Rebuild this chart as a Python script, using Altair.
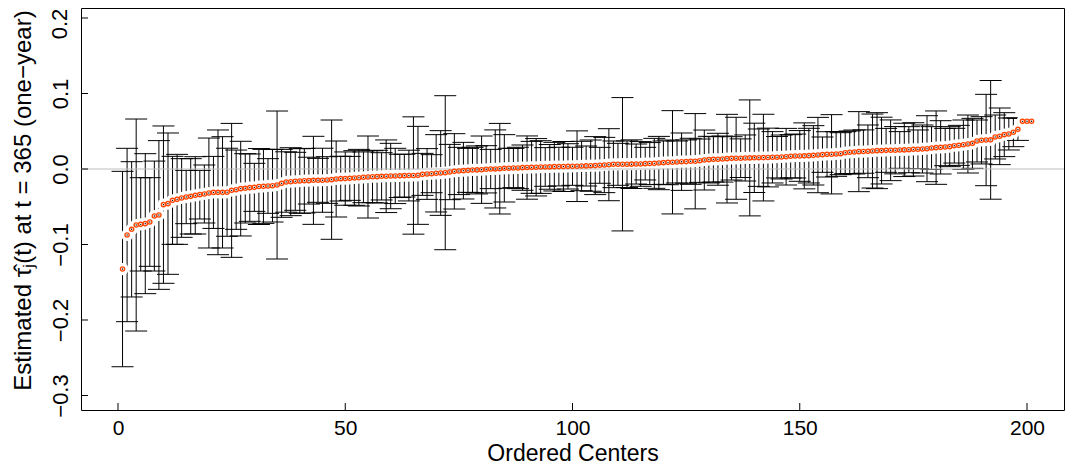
import altair as alt
import pandas as pd

est = [
    -0.1325, -0.0874, -0.0799, -0.0742, -0.0733, -0.0724, -0.0702, -0.0623, -0.0609, -0.0472,
    -0.0459, -0.0415, -0.0402, -0.0384, -0.0371, -0.0362, -0.0349, -0.0340, -0.0331, -0.0318,
    -0.0310, -0.0309, -0.0309, -0.0308, -0.0283, -0.0274, -0.0260, -0.0256, -0.0247, -0.0243,
    -0.0232, -0.0230, -0.0225, -0.0221, -0.0212, -0.0190, -0.0172, -0.0168, -0.0163, -0.0159,
    -0.0155, -0.0154, -0.0150, -0.0150, -0.0149, -0.0146, -0.0141, -0.0132, -0.0128, -0.0127,
    -0.0124, -0.0119, -0.0115, -0.0110, -0.0106, -0.0102, -0.0101, -0.0097, -0.0096, -0.0093,
    -0.0092, -0.0091, -0.0088, -0.0087, -0.0086, -0.0084, -0.0071, -0.0066, -0.0062, -0.0057,
    -0.0053, -0.0049, -0.0040, -0.0031, -0.0026, -0.0022, -0.0018, -0.0013, -0.0012, -0.0009,
    -0.0004, 0.0000, 0.0001, 0.0004, 0.0009, 0.0010, 0.0013, 0.0014, 0.0018, 0.0019,
    0.0022, 0.0023, 0.0026, 0.0027, 0.0028, 0.0031, 0.0032, 0.0033, 0.0035, 0.0036,
    0.0037, 0.0040, 0.0041, 0.0044, 0.0045, 0.0049, 0.0053, 0.0057, 0.0062, 0.0062,
    0.0063, 0.0063, 0.0064, 0.0066, 0.0067, 0.0071, 0.0072, 0.0075, 0.0079, 0.0084,
    0.0088, 0.0089, 0.0093, 0.0097, 0.0098, 0.0102, 0.0103, 0.0110, 0.0119, 0.0124,
    0.0128, 0.0129, 0.0132, 0.0137, 0.0141, 0.0142, 0.0143, 0.0146, 0.0147, 0.0148,
    0.0150, 0.0151, 0.0152, 0.0155, 0.0156, 0.0159, 0.0163, 0.0168, 0.0172, 0.0173,
    0.0174, 0.0177, 0.0181, 0.0185, 0.0190, 0.0194, 0.0195, 0.0199, 0.0203, 0.0216,
    0.0221, 0.0225, 0.0230, 0.0231, 0.0234, 0.0238, 0.0243, 0.0244, 0.0247, 0.0248,
    0.0249, 0.0252, 0.0253, 0.0256, 0.0260, 0.0261, 0.0265, 0.0269, 0.0278, 0.0283,
    0.0287, 0.0291, 0.0296, 0.0309, 0.0313, 0.0322, 0.0331, 0.0340, 0.0371, 0.0380,
    0.0384, 0.0386, 0.0424, 0.0433, 0.0455, 0.0464, 0.0486, 0.0525, 0.0631, 0.0632,
    0.0633,
]

half_width = [
    0.1294, 0.1148, 0.0896, 0.1404, 0.0618, 0.0927, 0.0587, 0.0728, 0.0985, 0.1042,
    0.0936, 0.0583, 0.0596, 0.0521, 0.0353, 0.0499, 0.0512, 0.0322, 0.0384, 0.0728,
    0.0477, 0.0826, 0.0737, 0.0583, 0.0887, 0.0525, 0.0627, 0.0459, 0.0446, 0.0318,
    0.0503, 0.0490, 0.0362, 0.0481, 0.0980, 0.0450, 0.0400, 0.0450, 0.0384, 0.0428,
    0.0428, 0.0310, 0.0583, 0.0291, 0.0424, 0.0309, 0.0790, 0.0503, 0.0296, 0.0353,
    0.0291, 0.0362, 0.0375, 0.0336, 0.0543, 0.0344, 0.0349, 0.0313, 0.0481, 0.0433,
    0.0366, 0.0287, 0.0283, 0.0336, 0.0777, 0.0649, 0.0278, 0.0336, 0.0252, 0.0512,
    0.0561, 0.1020, 0.0366, 0.0499, 0.0313, 0.0375, 0.0291, 0.0300, 0.0318, 0.0446,
    0.0313, 0.0260, 0.0517, 0.0600, 0.0446, 0.0265, 0.0260, 0.0274, 0.0300, 0.0419,
    0.0344, 0.0380, 0.0349, 0.0256, 0.0296, 0.0322, 0.0256, 0.0331, 0.0300, 0.0252,
    0.0468, 0.0327, 0.0265, 0.0340, 0.0384, 0.0238, 0.0366, 0.0477, 0.0309, 0.0278,
    0.0883, 0.0309, 0.0322, 0.0265, 0.0296, 0.0216, 0.0278, 0.0331, 0.0353, 0.0287,
    0.0296, 0.0684, 0.0278, 0.0380, 0.0287, 0.0305, 0.0631, 0.0287, 0.0397, 0.0309,
    0.0300, 0.0344, 0.0305, 0.0587, 0.0287, 0.0543, 0.0256, 0.0305, 0.0768, 0.0459,
    0.0380, 0.0574, 0.0389, 0.0340, 0.0274, 0.0291, 0.0375, 0.0287, 0.0291, 0.0336,
    0.0437, 0.0362, 0.0393, 0.0499, 0.0234, 0.0300, 0.0525, 0.0296, 0.0278, 0.0278,
    0.0283, 0.0291, 0.0530, 0.0287, 0.0349, 0.0490, 0.0503, 0.0442, 0.0291, 0.0402,
    0.0313, 0.0243, 0.0353, 0.0305, 0.0353, 0.0256, 0.0318, 0.0437, 0.0283, 0.0486,
    0.0353, 0.0247, 0.0265, 0.0230, 0.0265, 0.0327, 0.0384, 0.0331, 0.0278, 0.0313,
    0.0605, 0.0786, 0.0291, 0.0375, 0.0291, 0.0212, 0.0190, 0.0146, 0.0, 0.0,
    0.0,
]

x_ticks = [0, 50, 100, 150, 200]
y_ticks = [-0.3, -0.2, -0.1, 0.0, 0.1, 0.2]
y_top_label = ["0.2"]

FONT = "Liberation Sans"
W, H = 983, 402

df = pd.DataFrame({"center": list(range(1, len(est) + 1)), "est": est, "hw": half_width})
df["lo"] = df["est"] - df["hw"]
df["hi"] = df["est"] + df["hw"]
bars = df[df["hw"] > 0]

xs = alt.Scale(domain=[-8.14, 208.14], nice=False, zero=False)
ys = alt.Scale(domain=[-0.31921, 0.21325], nice=False, zero=False)

x_axis = alt.Axis(values=x_ticks, ticks=False, domain=False, grid=False,
                  labelFontSize=21, labelFont=FONT, labelColor="black",
                  labelBaseline="alphabetic", labelPadding=24,
                  title="Ordered Centers", titleFontSize=23, titleFont=FONT,
                  titleFontWeight="normal", titleColor="black",
                  titleBaseline="alphabetic", titleY=50)
y_axis = alt.Axis(values=y_ticks, ticks=False, domain=False, grid=False,
                  labelFontSize=22, labelFont=FONT, labelColor="black",
                  labelAngle=270, labelAlign="center", labelBaseline="alphabetic",
                  labelPadding=14,
                  labelExpr="datum.value > 0.15 ? '' : replace(format(datum.value, '.1f'), '-', '\u2212')",
                  title="Estimated \u03c4\u0302\u2c7c(t) at t = 365 (one\u2212year)",
                  titleFontSize=24, titleFont=FONT, titleFontWeight="normal",
                  titleColor="black", titleAngle=270, titleAlign="center",
                  titleBaseline="alphabetic", titleX=-51, titleY=192)

X = alt.X("center:Q", scale=xs, axis=x_axis)
Y = alt.Y("est:Q", scale=ys, axis=y_axis)

rules = alt.Chart(bars).mark_rule(color="black", strokeWidth=1).encode(
    x=alt.X("center:Q", scale=xs), y=alt.Y("lo:Q", scale=ys), y2="hi:Q")
cap_hi = alt.Chart(bars).mark_tick(orient="horizontal", size=22, thickness=1, color="black", opacity=1).encode(
    x=alt.X("center:Q", scale=xs), y=alt.Y("hi:Q", scale=ys))
cap_lo = alt.Chart(bars).mark_tick(orient="horizontal", size=22, thickness=1, color="black", opacity=1).encode(
    x=alt.X("center:Q", scale=xs), y=alt.Y("lo:Q", scale=ys))
white = alt.Chart(df).mark_point(shape="circle", filled=True, color="white", size=150, opacity=1).encode(
    x=X, y=Y)
zero = alt.Chart(pd.DataFrame({"z": [0.0]})).mark_rule(color="#BEBEBE", strokeWidth=1).encode(
    y=alt.Y("z:Q", scale=ys))
rings = alt.Chart(df).mark_point(shape="circle", filled=False, color="#FF4500", size=18,
                                 strokeWidth=1.35, opacity=1).encode(x=X, y=Y)
dots = alt.Chart(df).mark_point(shape="circle", filled=True, color="black", size=2, opacity=1).encode(
    x=X, y=Y)
xt = alt.Chart(pd.DataFrame({"t": x_ticks})).mark_rule(color="black", strokeWidth=1).encode(
    x=alt.X("t:Q", scale=xs), y=alt.value(H), y2=alt.value(H - 7))
yt = alt.Chart(pd.DataFrame({"t": y_ticks})).mark_rule(color="black", strokeWidth=1).encode(
    y=alt.Y("t:Q", scale=ys), x=alt.value(0), x2=alt.value(7))
top_lab = alt.Chart(pd.DataFrame({"t": [0.2], "lab": y_top_label})).mark_text(
    angle=270, align="center", baseline="alphabetic", dx=-6, fontSize=22, font=FONT, color="black"
).encode(y=alt.Y("t:Q", scale=ys), x=alt.value(-14), text="lab:N")

chart = alt.layer(rules, cap_hi, cap_lo, white, zero, rings, dots, xt, yt, top_lab).properties(
    width=W, height=H,
    autosize=alt.AutoSizeParams(type="none"),
    padding={"left": 73, "top": 0, "right": 1, "bottom": 55},
    background="white",
).configure_view(stroke="black", strokeWidth=1)

chart.save("out.html", embed_options={"renderer": "svg", "actions": False})
